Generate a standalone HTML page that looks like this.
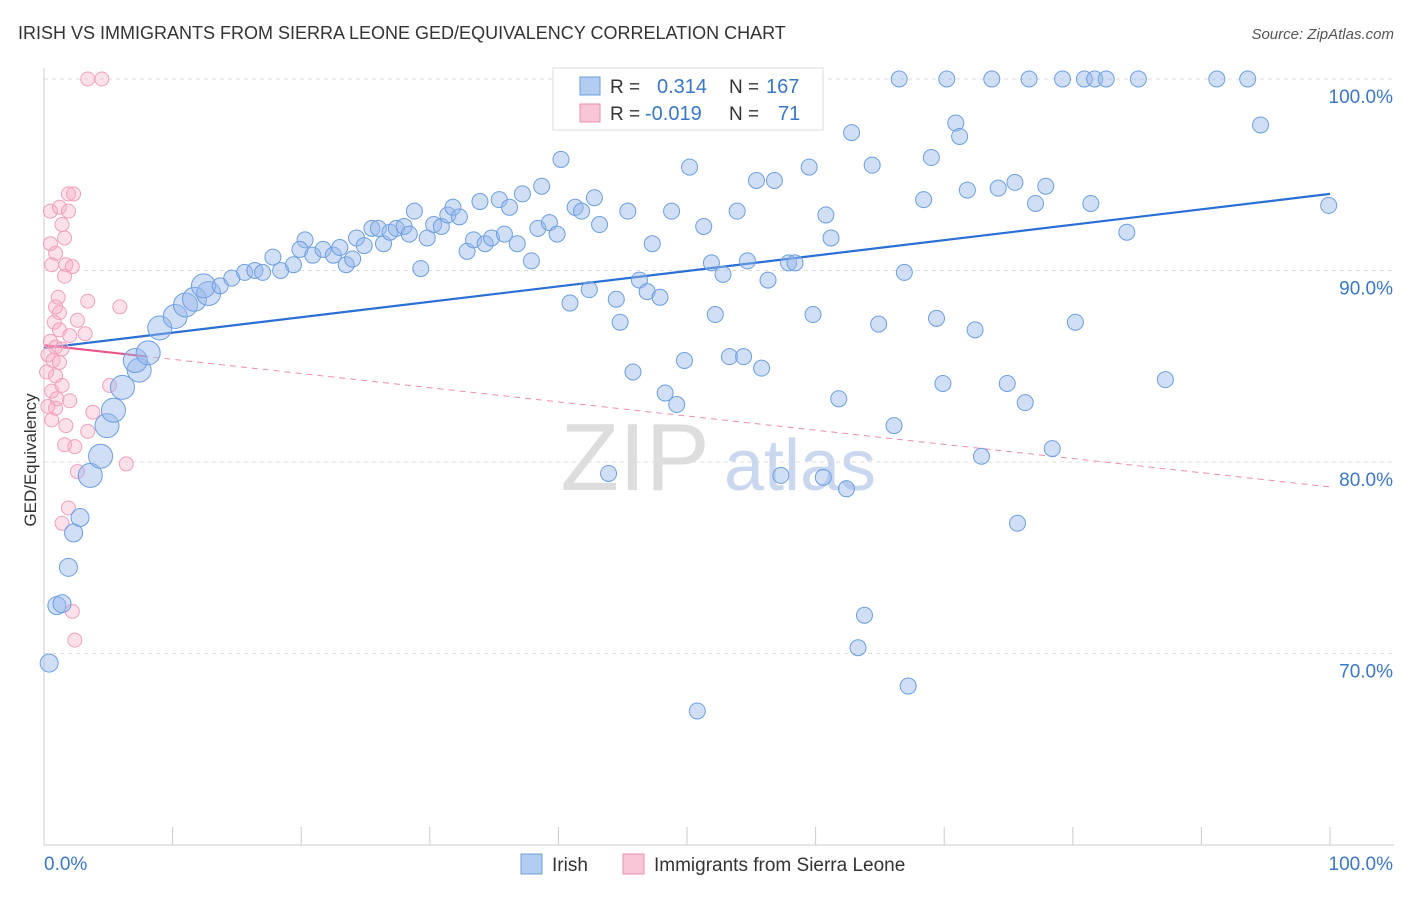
<!DOCTYPE html>
<html><head><meta charset="utf-8"><style>
body{margin:0;background:#fff;font-family:"Liberation Sans",sans-serif;}
svg text{font-family:"Liberation Sans",sans-serif;}
</style></head><body>
<svg id="chart" width="1406" height="892" xmlns="http://www.w3.org/2000/svg">
<text x="18" y="39" font-size="18" fill="#333">IRISH VS IMMIGRANTS FROM SIERRA LEONE GED/EQUIVALENCY CORRELATION CHART</text>
<text x="1394" y="39" font-size="15" fill="#555" text-anchor="end" font-style="italic">Source: ZipAtlas.com</text>
<text x="36" y="460" font-size="17" fill="#333" transform="rotate(-90 36 460)" text-anchor="middle">GED/Equivalency</text>
<g>
<text x="635" y="490" font-size="96" fill="#ddd" font-family="Liberation Serif" text-anchor="middle">ZIP</text>
<text x="800" y="490" font-size="72" fill="#c9d8ee" text-anchor="middle">atlas</text>
</g>
<g id="grid"></g><g id="axes"></g><g id="lines"></g><g id="pts"></g>
<g>
<rect x="553" y="68" width="270" height="62" fill="#fff" stroke="#ddd"/>
<rect x="580" y="77" width="20" height="18" fill="#b3cdf0" stroke="#6d9fe0"/>
<rect x="580" y="104" width="20" height="18" fill="#f8c6d6" stroke="#ee8db0"/>
<text x="610" y="93" font-size="19" fill="#333">R =</text><text x="657" y="93" font-size="20" fill="#3a77c8">0.314</text>
<text x="729" y="93" font-size="19" fill="#333">N =</text><text x="766" y="93" font-size="20" fill="#3a77c8">167</text>
<text x="610" y="120" font-size="19" fill="#333">R =</text><text x="645" y="120" font-size="20" fill="#3a77c8">-0.019</text>
<text x="729" y="120" font-size="19" fill="#333">N =</text><text x="778" y="120" font-size="20" fill="#3a77c8">71</text>
</g>
<g>
<rect x="521" y="854" width="21" height="20" fill="#b3cdf0" stroke="#6d9fe0"/>
<text x="552" y="871" font-size="19" fill="#333">Irish</text>
<rect x="623" y="854" width="21" height="20" fill="#f8c6d6" stroke="#ee8db0"/>
<text x="654" y="871" font-size="19" fill="#333">Immigrants from Sierra Leone</text>
</g>
</svg>
<script>
const yTicks=[100,90,80,70];
const xTickLabels=["0.0%","100.0%"];
const blueX=[0.4,1.0,1.4,1.9,2.3,2.8,3.6,4.4,4.9,5.4,6.1,7.4,7.1,8.1,9.0,10.2,11.0,11.7,12.8,12.4,13.7,14.6,15.6,16.4,17.0,18.4,19.4,17.8,20.3,19.9,20.9,21.7,22.5,23.0,23.5,24.0,24.3,24.9,25.5,26.0,26.4,26.9,27.4,28.0,28.4,28.8,29.3,29.8,30.3,30.9,31.4,31.8,32.3,32.9,33.4,33.9,34.3,34.8,35.4,35.8,36.2,36.8,37.2,37.9,38.4,38.7,39.3,39.9,40.2,40.9,41.3,41.8,42.4,42.8,43.2,43.9,44.5,44.8,45.4,45.8,46.3,46.9,47.3,47.9,48.3,48.8,49.2,49.8,50.2,50.8,51.3,51.9,52.2,52.8,53.3,53.9,54.4,54.7,55.4,55.8,56.3,56.8,57.3,57.9,58.4,59.5,59.8,60.6,60.8,61.2,61.8,62.4,62.8,63.3,63.8,64.4,64.9,66.1,66.9,67.2,68.4,69.0,69.4,69.9,70.9,71.2,71.8,72.4,72.9,74.2,74.9,75.5,75.7,76.3,77.1,77.9,78.4,80.2,81.4,84.2,87.2,94.6,99.9,58.6,66.5,70.2,73.7,76.6,79.2,80.9,81.7,82.6,85.1,91.2,93.6];
const blueY=[69.5,72.5,72.6,74.5,76.3,77.1,79.3,80.3,81.9,82.7,83.9,84.8,85.3,85.7,87.0,87.6,88.2,88.5,88.8,89.2,89.2,89.6,89.9,90.0,89.9,90.0,90.3,90.7,91.6,91.1,90.8,91.1,90.8,91.2,90.3,90.6,91.7,91.3,92.2,92.2,91.4,92.0,92.2,92.3,91.9,93.1,90.1,91.7,92.4,92.3,92.9,93.3,92.8,91.0,91.6,93.6,91.4,91.7,93.7,91.9,93.3,91.4,94.0,90.5,92.2,94.4,92.5,91.9,95.8,88.3,93.3,93.1,89.0,93.8,92.4,79.4,88.5,87.3,93.1,84.7,89.5,88.9,91.4,88.6,83.6,93.1,83.0,85.3,95.4,67.0,92.3,90.4,87.7,89.8,85.5,93.1,85.5,90.5,94.7,84.9,89.5,94.7,79.3,90.4,90.4,95.4,87.7,79.2,92.9,91.7,83.3,78.6,97.2,70.3,72.0,95.5,87.2,81.9,89.9,68.3,93.7,95.9,87.5,84.1,97.7,97.0,94.2,86.9,80.3,94.3,84.1,94.6,76.8,83.1,93.5,94.4,80.7,87.3,93.5,92.0,84.3,97.6,93.4,100,100,100,100,100,100,100,100,100,100,100,100];
const pinkX=[3.4,4.5,1.9,2.3,0.5,1.2,1.9,1.4,1.6,0.5,0.9,0.6,1.7,2.2,1.6,1.1,3.4,5.9,0.9,1.2,2.6,0.8,1.2,3.2,2.0,0.5,0.9,1.4,0.3,0.7,1.2,0.2,0.9,1.4,5.1,0.6,1.0,2.0,0.3,0.9,3.8,0.6,1.7,3.4,1.6,2.4,6.4,2.6,1.9,1.4,2.2,2.4];
const pinkY=[100,100,94.0,94.0,93.1,93.3,93.1,92.4,91.7,91.4,90.9,90.3,90.3,90.2,89.7,88.6,88.4,88.1,88.1,87.8,87.4,87.3,86.9,86.7,86.6,86.3,86.0,85.9,85.6,85.3,85.2,84.7,84.5,84.0,84.0,83.7,83.3,83.2,82.9,82.8,82.6,82.2,81.9,81.6,80.9,80.8,79.9,79.5,77.6,76.8,72.2,70.7];
const blueTrend=[85.95,94.0];
const pinkTrend=[86.1,78.7];
const X=v=>44+v*12.86, Y=v=>79+(100-v)*19.15;
const NS="http://www.w3.org/2000/svg";
function mk(p,t,a){const e=document.createElementNS(NS,t);for(const k in a)e.setAttribute(k,a[k]);document.getElementById(p).appendChild(e);return e;}
yTicks.forEach(t=>{
 const l=mk('grid','line',{x1:44,x2:1394,y1:Y(t),y2:Y(t),stroke:'#ddd','stroke-dasharray':'4,4'});
 
 
 const tx=mk('grid','text',{x:1393,y:Y(t)+24,'font-size':19,fill:'#3a77c8','text-anchor':'end'});
 tx.textContent=t.toFixed(1)+'%';
 
 
});
mk('axes','line',{x1:44,x2:44,y1:68,y2:845,stroke:'#ccc'});
const xa=mk('axes','line',{x1:44,x2:1394,y1:845,y2:845,stroke:'#ccc'});


for(let i=0;i<=10;i++){mk('axes','line',{x1:X(i*10),x2:X(i*10),y1:827,y2:845,stroke:'#ccc'});}
[[0,'start',44],[100,'end',1393]].forEach((d,i)=>{
 const t=mk('axes','text',{x:d[2],y:870,'font-size':19,fill:'#3a77c8','text-anchor':d[1]});
 t.textContent=xTickLabels[i];
 
 
});
const bl=mk('lines','line',{x1:X(0),y1:Y(blueTrend[0]),x2:X(100),y2:Y(blueTrend[1]),stroke:'#2a6fd6','stroke-width':2.2});


const pd=mk('lines','line',{x1:X(0),y1:Y(pinkTrend[0]),x2:X(100),y2:Y(pinkTrend[1]),stroke:'#ee8db0','stroke-width':1,'stroke-dasharray':'6,5'});


const f=8/100;
const ps=mk('lines','line',{x1:X(0),y1:Y(pinkTrend[0]),x2:X(8),y2:Y(pinkTrend[0]+(pinkTrend[1]-pinkTrend[0])*f),stroke:'#e8558a','stroke-width':2.2});


pinkX.forEach((x,i)=>{
 const c=mk('pts','circle',{cx:X(x),cy:Y(pinkY[i]),r:7,fill:'rgba(246,170,196,0.35)',stroke:'#f0a0bd','stroke-width':1});
 
 
});
blueX.forEach((x,i)=>{
 const r=x<13?(x<3?9:12):8;
 const c=mk('pts','circle',{cx:X(x),cy:Y(blueY[i]),r:r,fill:'rgba(150,185,235,0.45)',stroke:'#6d9fe0','stroke-width':1});
 
 
});
</script>
</body></html>
